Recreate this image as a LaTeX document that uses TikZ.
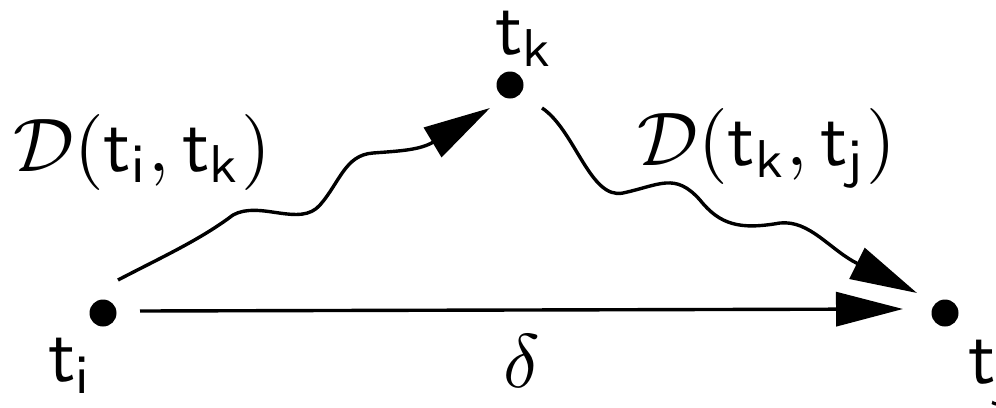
\documentclass[tikz,border=0pt]{standalone}
\usetikzlibrary{arrows.meta}
\begin{document}
\begin{tikzpicture}[x=1pt,y=-1pt,
  dot/.style={circle,fill=black,inner sep=0pt,minimum size=27pt},
  lbl/.style={inner sep=0pt,scale=7.6},
  conn/.style={line width=3.4pt,-{Triangle[length=67pt,width=34pt]}}]
\useasboundingbox (0,0) rectangle (996,407);
\node[dot] (ti) at (103,313) {};
\node[dot] (tk) at (510,85) {};
\node[dot] (tj) at (945,313) {};
\node[lbl,anchor=north west] (lti) at (47,337) {$\mathsf{t}_{\mathsf{i}}$};
\node[lbl,anchor=north west] (ltk) at (494,10) {$\mathsf{t}_{\mathsf{k}}$};
\node[lbl,anchor=north west] (ltj) at (967,339) {$\mathsf{t}_{\mathsf{j}}$};
\node[lbl] (delta) at (522,361) {$\delta$};
\node[lbl] (d1) at (142,152) {$\mathcal{D}(\mathsf{t}_{\mathsf{i}},\mathsf{t}_{\mathsf{k}})$};
\node[lbl] (d2) at (767,148) {$\mathcal{D}(\mathsf{t}_{\mathsf{k}},\mathsf{t}_{\mathsf{j}})$};
\coordinate (sa) at (140,311);
\coordinate (ea) at (903,309);
\coordinate (s1) at (118,280);
\coordinate (e1) at (490,108);
\coordinate (s2) at (542,108);
\coordinate (e2) at (917,293);
\draw[conn] (s1) .. controls (160,258) and (200,240) .. (233,215)
  .. controls (260,200) and (300,228) .. (320,205)
  .. controls (340,182) and (345,155) .. (373,153)
  .. controls (400,151) and (420,150) .. (e1);
\draw[conn] (s2) .. controls (575,130) and (590,200) .. (623,193)
  .. controls (660,185) and (675,172) .. (700,200)
  .. controls (720,225) and (740,230) .. (780,223)
  .. controls (810,220) and (830,250) .. (e2);
\draw[conn] (sa) -- (ea);
\end{tikzpicture}
\end{document}
